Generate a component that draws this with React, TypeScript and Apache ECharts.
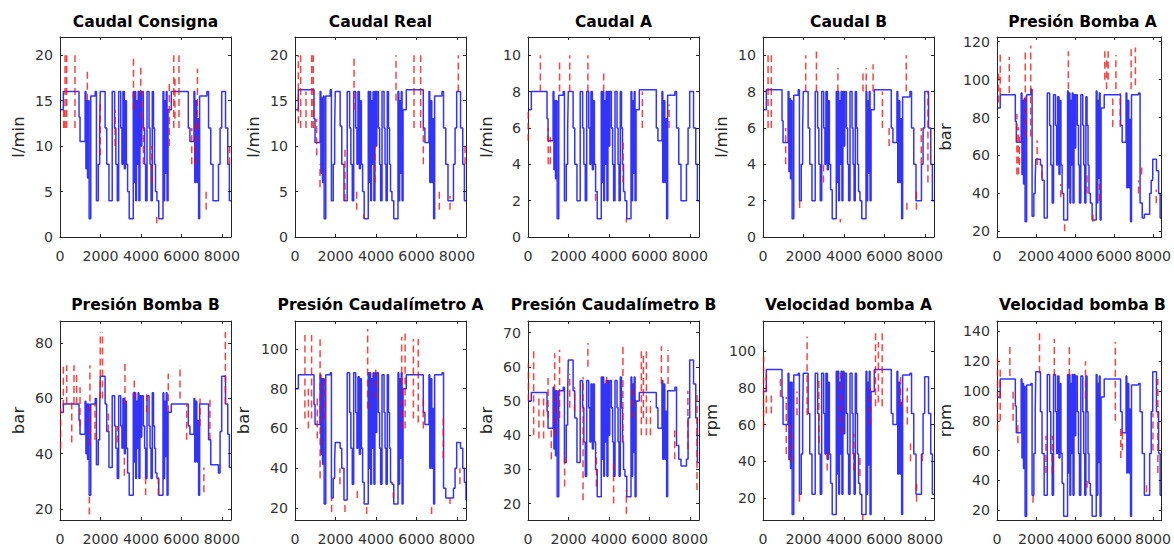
import React, { useEffect, useRef } from "react";
import * as echarts from "echarts";

// shared time breakpoints (samples)
const T = [0,165,940,990,1240,1280,1320,1360,1400,1440,1520,1740,
  1800,1890,1960,1990,2230,2310,2420,
  2580,2700,2760,2830,2900,3000,3060,3110,3180,3230,3280,3340,3420,
  3620,3660,3700,3740,3780,3820,3860,3900,3950,4000,4040,4120,4180,4230,
  4300,4400,4450,4500,4560,4620,4670,4720,4790,4880,
  5090,5130,5170,5210,5250,5290,5340,5500,
  6340,6420,6620,6660,6700,6760,6800,6850,6900,7260,
  7340,7450,7560,7830,7910,7990,8180,8290,8370,8450];

const xTicks = [0, 2000, 4000, 6000, 8000];

const caudalConsigna = [14,16,13.2,10.5,16,7.5,15,6.5,15,2,15.5,16,
  4,8,12,16,12,8,4,
  16,12,8,4,16,12,8,16,7.5,15,8,5,2,
  16,6,16,4,15,8,16,4,16,10,16,12,8,4,
  16,12,8,4,16,12,8,5,4,2,
  16,4,15,7,16,4,14,16,
  12,10.5,16,6,15,6,13,2,15.5,16,
  12,8,4,8,12,16,12,8,4,4];

const caudalReal = [14,16.2,13,10.4,16,7,15.3,6,15.5,2,15.5,16.2,
  4,8,12.2,16,12.2,8,4,
  16,12,8,4,16,12,8,16,7.5,15,8,5,2,
  16,6,16,4,15,8,16,4,16,10,16,12,8,4,
  16,12,8,4,16,12,8,5,4,2,
  16,4,15,7,16,4,14,16.2,
  12,10.4,16,6,15,6,13,2,15.5,16,
  12,8,4,8,12,16,12,8,4,4];

const caudalA = [7,8,6.5,5.3,8,3.7,7.5,3.2,7.5,1,7.8,8,
  2,4,6,8,6,4,2,
  8,6,4,2,8,6,4,8,3.7,7.5,4,2.5,1,
  8,3,8,2,7.5,4,8,2,8,5,8,6,4,2,
  8,6,4,2,8,6,4,2.5,2,1,
  8,2,7.5,3.5,8,2,7,8.1,
  6,5.3,8,3,7.5,3,6.5,1,7.8,8,
  6,4,2,4,6,8,6,4,2,2];

const caudalB = [7,8.1,6.4,5.2,8,3.6,7.6,3.2,7.5,1,7.8,8.1,
  2,4,6,8,6,4,2,
  8,6,4,2,8,6,4,8,3.7,7.5,4,2.6,1,
  8,3,8,2,7.5,4,8,2,8,5,8,6,4,2,
  8,6,4,2,8,6,4,2.5,2,1,
  8,2,7.5,3.5,8,2,7,8.1,
  6,5.2,8,3,7.5,3,6.5,1,7.7,8,
  6,4,2,4,6,8,6,4,2,2];

const presionBombaA = [85,92,78,67,93,50,89,45,90,25,92,95,
  28,40,47,58,55,47,27,
  93,76,55,35,92,76,55,91,50,89,55,40,26,
  94,43,93,35,89,55,93,35,92,64,92,76,55,35,
  92,76,55,35,91,76,55,40,35,26,
  94,35,89,48,93,26,85,92,
  76,67,93,43,89,43,79,25,92,93,
  35,27,29,40,47,58,52,40,27,27];

const presionBombaB = [55,58,52,47,59,40,58,38,58,25,58,60,
  36,45,55,68,58,48,35,
  61,50,42,31,61,50,42,60,40,59,42,33,25,
  62,37,62,31,59,42,62,31,61,46,61,50,42,31,
  61,50,42,31,62,50,42,33,31,25,
  62,31,59,39,62,25,55,58,
  50,47,60,37,59,37,52,25,58,58,
  45,36,36,33,48,68,58,47,35,35];

const presionCaudA = [80,87,72,62,87,47,85,42,85,22,87,88,
  25,35,45,53,50,40,24,
  88,68,50,32,88,68,50,86,47,85,50,33,22,
  88,40,88,32,85,50,88,32,88,58,88,68,50,32,
  87,68,50,32,87,68,50,33,32,22,
  88,32,85,45,88,22,80,87,
  68,62,87,40,85,40,70,22,87,88,
  30,25,25,30,40,53,50,40,33,24];

const presionCaudB = [50,52.5,47,42,54,36,53,34,53,22,53,54,
  32,43,52,62,53,45,32,
  56,48,38,28,56,48,38,55,36,55,38,30,22,
  57,33,57,28,55,38,56,28,56,40,56,48,38,28,
  56,48,38,28,57,48,38,30,28,22,
  57,28,55,35,57,22,50,52.5,
  48,42,56,33,55,33,47,22,53,54,
  37,33,31,33,45,62,55,45,32,32];

const velocidadA = [78,90,75,60,88,41,83,36,83,11,87,88,
  22,44,66,88,66,44,22,
  88,66,44,22,88,66,44,88,41,83,44,28,11,
  89,33,89,22,83,44,89,22,89,55,88,66,44,22,
  88,66,44,22,88,66,44,28,22,11,
  89,22,83,38,89,11,78,90,
  66,60,89,33,83,33,72,11,87,88,
  66,44,22,44,66,86,66,44,22,22];

const velocidadB = [96,108,90,72,108,55,105,48,103,16,104,105,
  30,58,86,113,86,58,30,
  111,86,58,30,111,86,58,110,55,105,58,38,16,
  111,45,111,30,105,58,111,30,111,70,110,86,58,30,
  110,86,58,30,110,86,58,38,30,16,
  111,30,105,52,110,16,96,108,
  86,72,110,45,105,45,88,16,104,105,
  86,58,30,58,86,113,86,58,30,30];

// red dashed raw-signal excursions: [sample, low, high]
const spikesConsigna = [[180,12,14.5],[250,12,20],[330,12,20],[740,12,20],[1350,15,18.5],[1990,9,15],[2720,10,14],[3630,14,20],[3990,13,19],[4120,8,13],[4540,6,10],[4780,1.5,2.2],[5400,10,17],[5620,12,20],[5680,13,17.5],[5880,12,20],[6510,8,12],[6700,8,13],[6790,12,18.5],[7220,3,5],[8380,8,10]];
const spikesReal = [[165,12.5,20],[280,12,20],[545,12,16],[825,12,20],[905,12,20],[1070,9,13],[1235,5.5,8],[2470,4,10],[2915,14,20],[3050,3,5],[3410,2,2.5],[3950,6,10],[4990,15,20],[5880,12,20],[6210,12,20],[6340,8,12],[7130,3,5],[7660,3,4.5],[8070,16,20],[8400,8,10]];
const spikesA = [[10,5.3,7],[610,8,10],[1000,4,6],[1100,4,5.5],[1560,8,9.8],[2060,8,10],[2960,8,10],[3340,2,2.5],[3740,8,9],[4700,3,5.2],[4860,0.8,1],[5650,6,8],[6970,6,7.3]];
const spikesB = [[250,6,10],[410,6,10],[1120,4,6],[1810,1.6,2],[2110,8,10],[2640,8,10.2],[2990,3,4],[3700,8,9.3],[3820,0.8,1],[4940,8,9],[5100,8,9.3],[5440,8,9.5],[5900,6,8],[6230,5,6],[7080,8,10],[7110,1.5,2],[7580,1.5,2.5],[7820,4,6],[8150,3,8]];
const spikesPBA = [[80,88,105],[165,92,115],[630,93,112],[1020,50,82],[1100,50,75],[1150,55,70],[1450,70,115],[1730,70,118],[2060,55,68],[2310,48,55],[3270,38,45],[3470,20,25],[3660,95,115],[4620,40,50],[4920,25,30],[5250,36,45],[5530,100,115],[5620,95,112],[5700,100,115],[5940,75,90],[6100,95,113],[6320,75,93],[6880,95,117],[7100,97,117],[7260,40,47],[7420,50,55],[8170,35,42]];
const spikesPBB = [[30,42,57],[165,57,72],[330,58,72],[580,44,60],[690,58,72],[820,58,70],[990,50,64],[1450,18,25],[1480,43,72],[1730,45,58],[1990,60,84],[2100,60,84],[2390,48,55],[2840,44,50],[3180,32,40],[3210,58,73],[3670,60,68],[4230,25,32],[4280,55,62],[4860,25,32],[5350,55,69],[5930,60,72],[6260,45,58],[6920,50,60],[7110,26,35],[7410,45,60],[8170,58,84]];
const spikesPCA = [[490,65,107],[660,60,80],[820,65,107],[1100,55,77],[1240,35,105],[1480,65,85],[1810,18,25],[2220,32,40],[2470,18,24],[3080,25,30],[3540,17,22],[3590,70,110],[3990,75,90],[4860,25,28],[5270,60,106],[5440,60,108],[5850,65,105],[6090,63,105],[6340,60,75],[6750,17,22],[7330,45,65],[7660,22,25],[8150,32,40]];
const spikesPCB = [[20,50,61],[280,40,65],[540,39,52],[770,39,52],[990,45,58],[1150,33,42],[1320,40,64],[1560,45,65],[1810,25,35],[2060,48,58],[2300,47,54],[2720,21,57],[2960,60,67],[3380,25,35],[3890,55,57],[4230,20,33],[4690,38,67],[4860,17,24],[5150,45,55],[5600,40,65],[5700,45,64],[5850,40,65],[6050,40,50],[6590,55,66],[6920,55,65],[7250,33,42],[7900,36,53],[8350,24,53]];
const spikesVA = [[30,58,97],[165,66,88],[410,66,78],[860,75,85],[1150,44,75],[1400,40,60],[1680,65,78],[1800,18,22],[2180,65,108],[2760,50,85],[3170,35,45],[3830,55,88],[4490,35,55],[4790,32,42],[4930,8,11],[5310,60,80],[5560,70,110],[5700,72,105],[5890,70,110],[6800,70,87],[7130,60,80],[7290,40,52],[7590,18,28],[7870,40,45]];
const spikesVB = [[30,73,122],[165,80,115],[660,110,132],[825,80,100],[1070,65,80],[1850,25,32],[2180,112,140],[2510,45,70],[2840,45,70],[2940,110,135],[3710,110,131],[4540,95,120],[4620,35,42],[6070,80,133],[6350,55,75],[6430,60,75],[7670,32,38],[8000,60,85],[8250,45,108]];

const titles = ["Caudal Consigna", "Caudal Real", "Caudal A", "Caudal B", "Presión Bomba A",
  "Presión Bomba B", "Presión Caudalímetro A", "Presión Caudalímetro B", "Velocidad bomba A", "Velocidad bomba B"];
const units = ["l/min", "l/min", "l/min", "l/min", "bar", "bar", "bar", "bar", "rpm", "rpm"];
const yMins = [0, 0, 0, 0, 17, 16, 14, 15.2, 8, 13.4];
const yMaxs = [22, 22, 11, 11, 122.5, 88, 114, 73.4, 116.4, 147];
const yTicks = [
  [0, 5, 10, 15, 20], [0, 5, 10, 15, 20], [0, 2, 4, 6, 8, 10], [0, 2, 4, 6, 8, 10],
  [20, 40, 60, 80, 100, 120], [20, 40, 60, 80], [20, 40, 60, 80, 100], [20, 30, 40, 50, 60, 70],
  [20, 40, 60, 80, 100], [20, 40, 60, 80, 100, 120, 140],
];
const seriesValues = [caudalConsigna, caudalReal, caudalA, caudalB, presionBombaA,
  presionBombaB, presionCaudA, presionCaudB, velocidadA, velocidadB];
const seriesSpikes = [spikesConsigna, spikesReal, spikesA, spikesB, spikesPBA,
  spikesPBB, spikesPCA, spikesPCB, spikesVA, spikesVB];

const X_MAX = 8450;
const LEFTS = [60, 295, 528, 763, 997];
const TOPS = [37, 321];
const PW = 171;
const PH = [200, 201];
const TITLE_Y = [14, 297];

export default function App() {
  const ref = useRef<HTMLDivElement>(null);
  useEffect(() => {
    document.body.style.margin = "0";
    const chart = echarts.init(ref.current as HTMLDivElement, null, { renderer: "svg" });
    const axisColor = "#262626";
    const plain = (v: number) => String(v);
    const grid: any[] = [];
    const xAxis: any[] = [];
    const yAxis: any[] = [];
    const series: any[] = [];
    const graphic: any[] = [];
    const labelFont = { fontSize: 14.2, fontFamily: "DejaVu Sans", color: "#333333" };
    titles.forEach((title, i) => {
      const r = Math.floor(i / 5);
      const c = i % 5;
      grid.push({ left: LEFTS[c], top: TOPS[r], width: PW, height: PH[r] });
      const base = {
        type: "value",
        gridIndex: i,
        splitLine: { show: false },
        axisLine: { show: true, onZero: false, lineStyle: { color: axisColor, width: 1 } },
      };
      const tickStyle = { color: axisColor, width: 1 };
      xAxis.push({
        ...base, position: "bottom", min: 0, max: X_MAX,
        axisTick: { show: true, inside: true, length: 3, customValues: xTicks, lineStyle: tickStyle },
        axisLabel: { customValues: xTicks, formatter: plain, margin: 12, ...labelFont },
      });
      xAxis.push({
        ...base, position: "top", min: 0, max: X_MAX,
        axisTick: { show: true, inside: true, length: 3, customValues: xTicks, lineStyle: tickStyle },
        axisLabel: { show: false },
      });
      const threeDigit = yTicks[i][yTicks[i].length - 1] >= 100;
      yAxis.push({
        ...base, position: "left", min: yMins[i], max: yMaxs[i],
        name: units[i], nameLocation: "middle", nameGap: threeDigit ? 43 : 33,
        nameTextStyle: { fontSize: 16.5, fontFamily: "DejaVu Sans", color: axisColor },
        axisTick: { show: true, inside: true, length: 3, customValues: yTicks[i], lineStyle: tickStyle },
        axisLabel: { customValues: yTicks[i], formatter: plain, margin: 7, ...labelFont },
      });
      yAxis.push({
        ...base, position: "right", min: yMins[i], max: yMaxs[i],
        axisTick: { show: true, inside: true, length: 3, customValues: yTicks[i], lineStyle: tickStyle },
        axisLabel: { show: false },
      });
      const vals = seriesValues[i];
      series.push({
        type: "line", xAxisIndex: 2 * i, yAxisIndex: 2 * i,
        data: T.map((t, k) => [t, vals[k]]),
        step: "end", showSymbol: false, symbol: "none", silent: true,
        lineStyle: { color: "#0000ff", width: 1.5, opacity: 0.8 },
      });
      const redData: any[] = [];
      seriesSpikes[i].forEach(([x, a, b]) => {
        redData.push([x, a], [x, b], [x, "-"]);
      });
      series.push({
        type: "line", xAxisIndex: 2 * i, yAxisIndex: 2 * i,
        data: redData, connectNulls: false,
        showSymbol: false, symbol: "none", silent: true,
        lineStyle: { color: "#ff0000", width: 1.5, opacity: 0.75, type: [7, 4] },
      });
      graphic.push({
        type: "text",
        x: LEFTS[c] + PW / 2,
        y: TITLE_Y[r],
        style: {
          text: title,
          align: "center", verticalAlign: "top",
          textAlign: "center", textVerticalAlign: "top",
          font: 'bold 15.5px "DejaVu Sans"',
          fill: "#000000",
        },
      });
    });
    chart.setOption({
      animation: false,
      backgroundColor: "#ffffff",
      grid, xAxis, yAxis, series, graphic,
    });
    return () => chart.dispose();
  }, []);
  return <div ref={ref} style={{ width: 1174, height: 546 }} />;
}
